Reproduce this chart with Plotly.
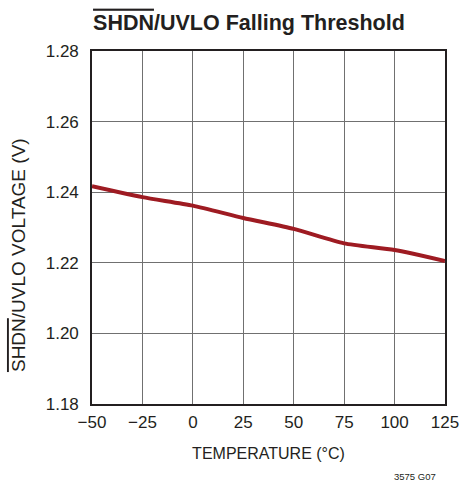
import plotly.graph_objects as go

temperature = [-50, -25, 0, 25, 50, 75, 100, 125]
voltage = [1.2417, 1.2386, 1.2362, 1.2327, 1.2296, 1.2255, 1.2236, 1.2205]
x_ticks = [-50, -25, 0, 25, 50, 75, 100, 125]
x_labels = ["\u221250", "\u221225", "0", "25", "50", "75", "100", "125"]
y_ticks = [1.18, 1.20, 1.22, 1.24, 1.26, 1.28]
y_labels = ["1.18", "1.20", "1.22", "1.24", "1.26", "1.28"]

FONT = "Liberation Sans, Arial, sans-serif"
INK = "#231f20"

fig = go.Figure()
fig.add_trace(go.Scatter(
    x=temperature, y=voltage, mode="lines",
    line=dict(color="#9E1B22", width=4, shape="spline", smoothing=0.6),
    showlegend=False, hoverinfo="skip",
))

fig.update_layout(
    width=461, height=481,
    margin=dict(l=92, r=16, t=51, b=77),
    paper_bgcolor="white", plot_bgcolor="white",
    font=dict(family=FONT, color=INK, size=17),
    title=dict(
        text="<b><span style='text-decoration:overline'>SHDN</span>/UVLO Falling Threshold</b>",
        x=0.54, xanchor="center", y=0.954, yanchor="middle",
        font=dict(family=FONT, size=21.5, color=INK),
    ),
    xaxis=dict(
        range=[-50, 125], tickvals=x_ticks, ticktext=x_labels,
        showgrid=True, gridcolor="#707070", gridwidth=1.3,
        showline=True, linecolor=INK, linewidth=1.6, mirror=True,
        ticks="", zeroline=False, ticklabelstandoff=2, automargin=False,
        title=dict(text="TEMPERATURE (\u00b0C)", font=dict(size=16), standoff=17),
        tickfont=dict(size=17),
    ),
    yaxis=dict(
        range=[1.18, 1.28], tickvals=y_ticks, ticktext=y_labels,
        showgrid=True, gridcolor="#707070", gridwidth=1.3,
        showline=True, linecolor=INK, linewidth=1.6, mirror=True,
        ticks="", zeroline=False, ticklabelstandoff=8, automargin=False,
        tickfont=dict(size=17),
    ),
)

fig.add_annotation(
    text="<span style='text-decoration:overline'>SHDN</span>/UVLO VOLTAGE (V)",
    xref="paper", yref="paper", x=-0.2096, y=0.422,
    xanchor="center", yanchor="middle", textangle=-90, showarrow=False,
    font=dict(family=FONT, size=19, color=INK),
)

fig.add_annotation(
    text="3575 G07", xref="paper", yref="paper", x=0.98, y=-0.204,
    xanchor="right", yanchor="middle", showarrow=False,
    font=dict(family=FONT, size=9.5, color=INK),
)

fig.write_html(
    "out.html",
    config={"responsive": False, "displayModeBar": False},
    post_script="document.body.style.margin='0';document.body.style.overflow='hidden';",
)
